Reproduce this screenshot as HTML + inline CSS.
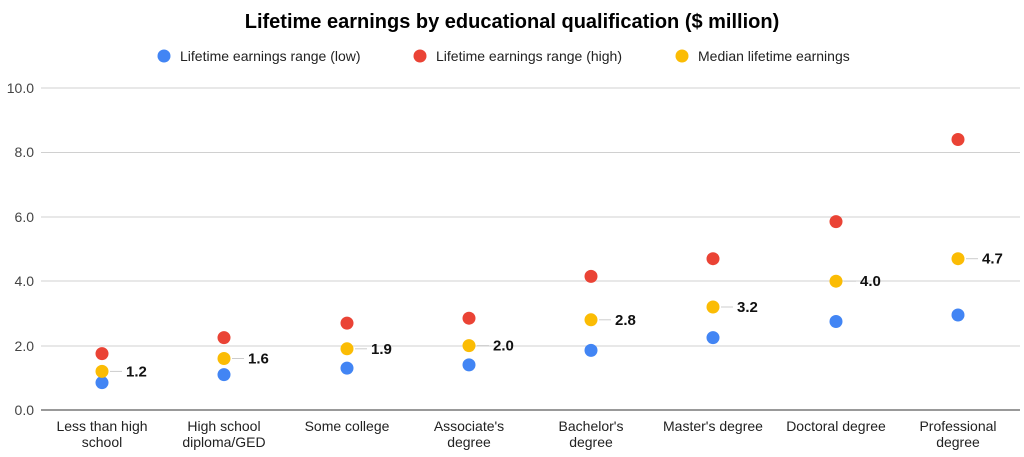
<!DOCTYPE html>
<html><head><meta charset="utf-8"><style>body{margin:0;background:#fff}svg{display:block}</style></head><body>
<svg width="1024" height="457" viewBox="0 0 1024 457" xmlns="http://www.w3.org/2000/svg" font-family="Liberation Sans, Arial, sans-serif">
<text x="512" y="28" text-anchor="middle" font-size="20" font-weight="bold" fill="#000">Lifetime earnings by educational qualification ($ million)</text>
<g font-size="14" fill="#222">
<circle cx="164" cy="56" r="6.5" fill="#4285f4"/><text x="180" y="61">Lifetime earnings range (low)</text>
<circle cx="420" cy="56" r="6.5" fill="#ea4335"/><text x="436" y="61">Lifetime earnings range (high)</text>
<circle cx="682" cy="56" r="6.5" fill="#fbbc04"/><text x="698" y="61">Median lifetime earnings</text>
</g>
<g stroke="#d0d0d0" stroke-width="1">
<line x1="41" x2="1020" y1="88" y2="88"/><line x1="41" x2="1020" y1="152.5" y2="152.5"/><line x1="41" x2="1020" y1="217" y2="217"/><line x1="41" x2="1020" y1="281" y2="281"/><line x1="41" x2="1020" y1="346" y2="346"/>
</g>
<line x1="41" x2="1020" y1="410" y2="410" stroke="#333" stroke-width="1"/>
<g font-size="14" fill="#444" text-anchor="end">
<text x="34" y="93">10.0</text><text x="34" y="157">8.0</text><text x="34" y="222">6.0</text><text x="34" y="286">4.0</text><text x="34" y="351">2.0</text><text x="34" y="415">0.0</text>
</g>
<g font-size="14" fill="#222" text-anchor="middle">
<text x="102" y="431">Less than high</text><text x="102" y="447">school</text>
<text x="224" y="431">High school</text><text x="224" y="447">diploma/GED</text>
<text x="347" y="431">Some college</text>
<text x="469" y="431">Associate's</text><text x="469" y="447">degree</text>
<text x="591" y="431">Bachelor's</text><text x="591" y="447">degree</text>
<text x="713" y="431">Master's degree</text>
<text x="836" y="431">Doctoral degree</text>
<text x="958" y="431">Professional</text><text x="958" y="447">degree</text>
</g>
<g fill="#4285f4">
<circle cx="102" cy="382.6" r="6.5"/><circle cx="224" cy="374.6" r="6.5"/><circle cx="347" cy="368.1" r="6.5"/><circle cx="469" cy="364.9" r="6.5"/><circle cx="591" cy="350.4" r="6.5"/><circle cx="713" cy="337.6" r="6.5"/><circle cx="836" cy="321.5" r="6.5"/><circle cx="958" cy="315" r="6.5"/>
</g>
<g fill="#ea4335">
<circle cx="102" cy="353.6" r="6.5"/><circle cx="224" cy="337.6" r="6.5"/><circle cx="347" cy="323.1" r="6.5"/><circle cx="469" cy="318.2" r="6.5"/><circle cx="591" cy="276.4" r="6.5"/><circle cx="713" cy="258.7" r="6.5"/><circle cx="836" cy="221.6" r="6.5"/><circle cx="958" cy="139.5" r="6.5"/>
</g>
<g stroke="#ccc">
<line x1="110" x2="122" y1="371.4" y2="371.4"/><line x1="232" x2="244" y1="358.5" y2="358.5"/><line x1="355" x2="367" y1="348.8" y2="348.8"/><line x1="477" x2="489" y1="345.6" y2="345.6"/><line x1="599" x2="611" y1="319.8" y2="319.8"/><line x1="721" x2="733" y1="307" y2="307"/><line x1="844" x2="856" y1="281.2" y2="281.2"/><line x1="966" x2="978" y1="258.7" y2="258.7"/>
</g>
<g fill="#fbbc04">
<circle cx="102" cy="371.4" r="6.5"/><circle cx="224" cy="358.5" r="6.5"/><circle cx="347" cy="348.8" r="6.5"/><circle cx="469" cy="345.6" r="6.5"/><circle cx="591" cy="319.8" r="6.5"/><circle cx="713" cy="307" r="6.5"/><circle cx="836" cy="281.2" r="6.5"/><circle cx="958" cy="258.7" r="6.5"/>
</g>
<g font-size="15" font-weight="bold" fill="#111">
<text x="126" y="376.4">1.2</text><text x="248" y="363.5">1.6</text><text x="371" y="353.8">1.9</text><text x="493" y="350.6">2.0</text><text x="615" y="324.8">2.8</text><text x="737" y="312">3.2</text><text x="860" y="286.2">4.0</text><text x="982" y="263.7">4.7</text>
</g>
</svg>
</body></html>
